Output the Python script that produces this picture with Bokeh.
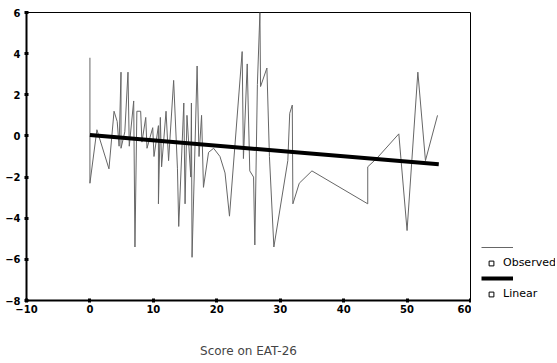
from bokeh.plotting import figure
from bokeh.models import Legend, LegendItem, Range1d, FixedTicker, ColumnDataSource
from bokeh.layouts import row
from bokeh.embed import file_html
from bokeh.resources import INLINE

# Observed series (Score on EAT-26 vs residual)
obs_x = [0, 0, 1.1, 3.0, 3.8, 4.3, 4.6, 4.9, 4.9, 5.5, 6.0, 6.2, 6.9, 7.1, 7.4, 8.0, 8.2, 8.8, 9.0,
         9.9, 10.1, 10.8, 10.8, 11.1, 11.3, 12.0, 12.4, 13.2, 13.8, 14.0, 14.8, 15.0, 15.3, 15.9, 16.0,
         16.1, 16.9, 17.2, 17.6, 17.9, 18.7, 19.5, 20.5, 21.3, 22.0, 24.0, 24.2, 24.8, 25.2, 25.8, 26.0,
         26.4, 26.8, 26.9, 27.9, 28.3, 29.0, 31.2, 31.5, 31.9, 32.0, 33.0, 35.0, 43.8, 43.8, 45.2, 48.7,
         50.0, 51.7, 52.9, 54.8]
obs_y = [3.8, -2.3, 0.3, -1.6, 1.2, 0.7, -0.5, 3.1, -0.6, 0.2, 3.1, -0.5, 1.7, -5.4, 1.2, 1.2, -0.3, 0.9, -0.6,
         0.4, -1.0, 0.5, -3.3, 0.9, -1.5, 1.2, -1.2, 2.7, -1.6, -4.4, 1.6, -3.3, 1.0, -2.0, 1.6,
         -5.9, 3.4, -1.0, 1.0, -2.5, -0.8, -0.6, -1.0, -1.8, -3.9, 4.1, -1.1, 3.5, -1.7, -2.0, -5.3,
         2.5, 6.0, 2.4, 3.3, -1.0, -5.4, -1.2, 1.1, 1.5, -3.3, -2.3, -1.7, -3.3, -1.5, -1.1, 0.1,
         -4.6, 3.1, -1.2, 1.0]

# Linear fit
lin_x = [0, 55]
lin_intercept = 0.05
lin_slope = -0.026
lin_y = [lin_intercept + lin_slope * x for x in lin_x]

x_ticks = [-10, 0, 10, 20, 30, 40, 50, 60]
y_ticks = [-8, -6, -4, -2, 0, 2, 4, 6]

legend_labels = ["Observed", "Linear"]

FONT = "DejaVu Sans"
H = 360
TOP, BOTTOM = 12, 59
MAIN_W = 471
LEG_W = 84

p = figure(width=MAIN_W, height=H, output_backend="svg", toolbar_location=None,
           x_range=Range1d(-10, 60), y_range=Range1d(-8, 6),
           min_border_left=26, min_border_right=1, min_border_top=TOP, min_border_bottom=BOTTOM)
p.background_fill_color = "white"
p.border_fill_color = "white"
p.outline_line_color = "black"
p.outline_line_width = 1
p.xgrid.visible = False
p.ygrid.visible = False

p.line(obs_x, obs_y, line_color="#666666", line_width=1)
p.line(lin_x, lin_y, line_color="black", line_width=4)

for ax in (p.xaxis[0], p.yaxis[0]):
    ax.axis_line_color = "black"
    ax.axis_line_width = 2
    ax.major_tick_line_color = "black"
    ax.major_tick_line_width = 3
    ax.major_tick_in = 2
    ax.major_tick_out = 2
    ax.minor_tick_line_color = None
    ax.major_label_text_font = FONT
    ax.major_label_text_font_size = "10px"
    ax.major_label_text_font_style = "bold"
    ax.major_label_text_color = "black"

p.xaxis.ticker = FixedTicker(ticks=x_ticks)
p.yaxis.ticker = FixedTicker(ticks=y_ticks)
p.xaxis.major_label_standoff = 2
p.yaxis.major_label_standoff = 4
p.xaxis.axis_label = "Score on EAT-26"
p.xaxis.axis_label_text_font = FONT
p.xaxis.axis_label_text_font_style = "normal"
p.xaxis.axis_label_text_font_size = "12px"
p.xaxis.axis_label_standoff = 28

# Legend panel (separate small figure to the right of the plot)
lg = figure(width=LEG_W, height=H, output_backend="svg", toolbar_location=None,
            x_range=Range1d(0, 1), y_range=Range1d(0, 1),
            x_axis_type=None, y_axis_type=None,
            min_border_left=0, min_border_right=0, min_border_top=TOP, min_border_bottom=BOTTOM)
lg.outline_line_color = None
lg.xgrid.visible = False
lg.ygrid.visible = False
nan = float("nan")
src = ColumnDataSource(data=dict(x=[nan], y=[nan]))
l_obs = lg.line("x", "y", source=src, line_color="#666666", line_width=1)
l_lin = lg.line("x", "y", source=src, line_color="black", line_width=4)
l_sq = lg.scatter("x", "y", source=src, marker="square", size=5,
                  fill_color="white", line_color="black", line_width=1)


def make_legend(label, renderer, loc, glyph_w, standoff):
    lgd = Legend(items=[LegendItem(label=label, renderers=[renderer])], location=loc)
    lgd.glyph_width = glyph_w
    lgd.glyph_height = 12
    lgd.label_height = 12
    lgd.padding = 0
    lgd.margin = 0
    lgd.spacing = 0
    lgd.label_standoff = standoff
    lgd.label_text_font = FONT
    lgd.label_text_font_size = "11px"
    lgd.label_text_color = "black"
    lgd.border_line_color = None
    lgd.background_fill_alpha = 0
    return lgd


lg.add_layout(make_legend(" ", l_obs, (10, 47), 32, 0))
lg.add_layout(make_legend(legend_labels[0], l_sq, (14, 31), 12, 6))
lg.add_layout(make_legend(" ", l_lin, (10, 16), 32, 0))
lg.add_layout(make_legend(legend_labels[1], l_sq, (14, 0), 12, 6))

layout = row(p, lg, spacing=0)
open("out.html", "w").write(file_html(layout, INLINE))
